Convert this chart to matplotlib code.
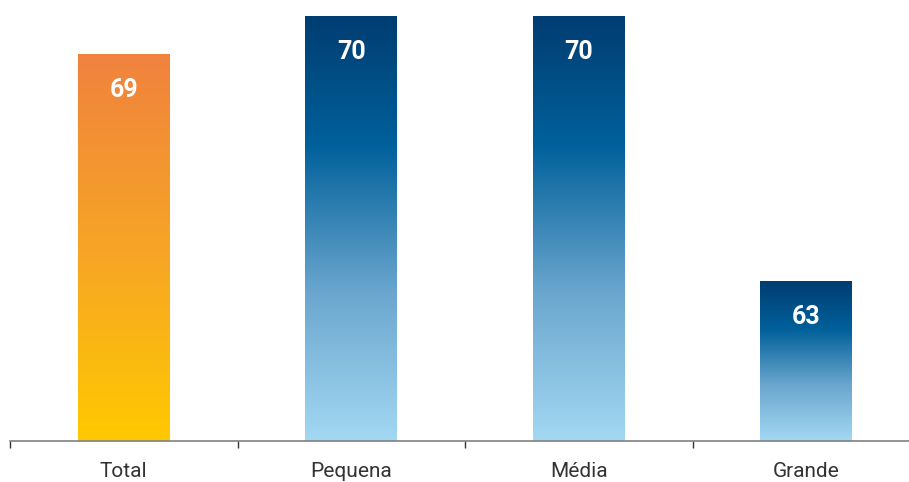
import matplotlib
matplotlib.use("Agg")
import matplotlib.pyplot as plt
import numpy as np
from matplotlib.colors import LinearSegmentedColormap

plt.rcParams["font.family"] = ["Roboto", "DejaVu Sans"]

categories = ["Total", "Pequena", "Média", "Grande"]
values = [69, 70, 70, 63]
labels = ["69", "70", "70", "63"]
styles = ["orange", "blue", "blue", "blue"]

YMIN, YMAX = 58.8, 70.44
BAR_W = 0.404

cmaps = {
    # 0 = bottom, 1 = top
    "orange": LinearSegmentedColormap.from_list(
        "orange", [(0.0, "#FFC900"), (0.45, "#F7A823"), (1.0, "#F0823E")]),
    "blue": LinearSegmentedColormap.from_list(
        "blue", [(0.0, "#A3D8F2"), (0.35, "#6AA6CE"), (0.7, "#00609A"),
                 (1.0, "#003D72")]),
}

fig = plt.figure(figsize=(9.09, 4.82), dpi=100)
ax = fig.add_axes([10 / 909, 1 - 441 / 482, 910 / 909, 441 / 482])

grad = np.linspace(0, 1, 256).reshape(-1, 1)
for i, (v, lab, st) in enumerate(zip(values, labels, styles)):
    ax.imshow(grad, cmap=cmaps[st], origin="lower", aspect="auto",
              extent=(i - BAR_W / 2, i + BAR_W / 2, YMIN, v), zorder=2)
    ax.annotate(lab, (i, v), xytext=(0, -35), textcoords="offset pixels",
                ha="center", va="center", color="white", fontsize=18,
                fontweight="bold", zorder=3)

ax.set_xlim(-0.5, 3.5)
ax.set_ylim(YMIN, YMAX)
for s in ["top", "right", "left"]:
    ax.spines[s].set_visible(False)
ax.spines["bottom"].set_color("#808080")
ax.spines["bottom"].set_linewidth(1.2)
ax.set_yticks([])
ax.set_xticks(np.arange(-0.5, 4, 1))
ax.set_xticklabels([])
ax.set_xticks(np.arange(len(categories)), minor=True)
ax.set_xticklabels(categories, minor=True, fontsize=15, color="#333333")
ax.tick_params(axis="x", which="major", length=5, color="#333333", width=1)
ax.tick_params(axis="x", which="minor", length=0, pad=15)

fig.savefig("out.png", dpi=100)
